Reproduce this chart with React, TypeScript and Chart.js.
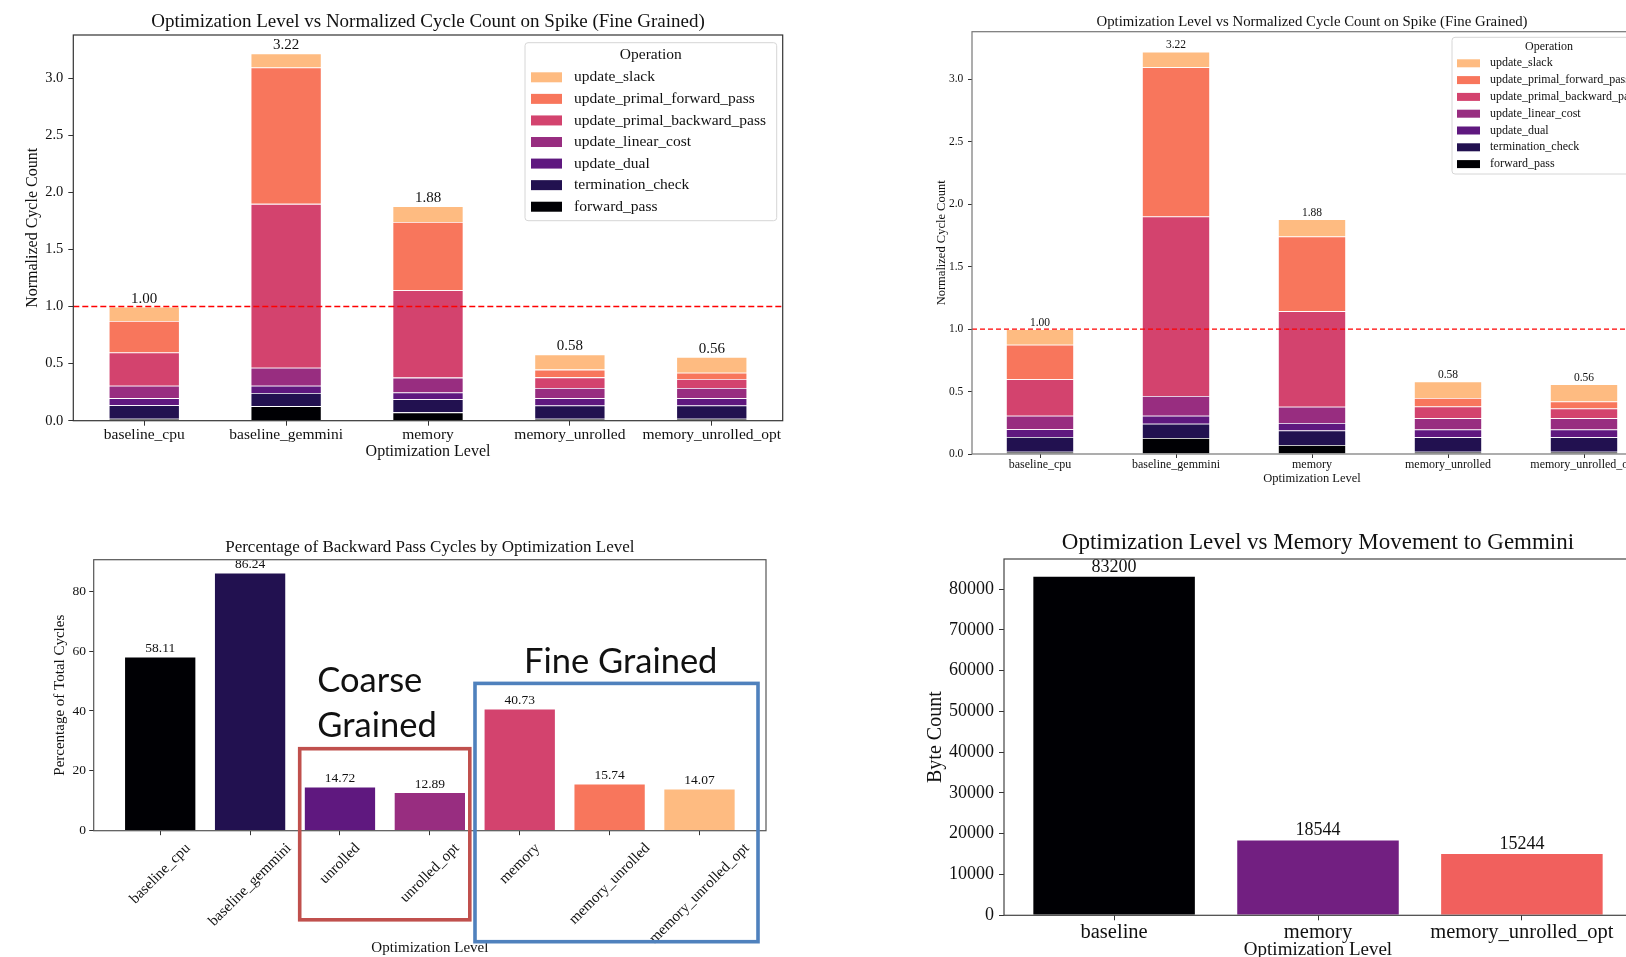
import React, { useEffect, useRef } from 'react';
import { Chart, registerables } from 'chart.js';
Chart.register(...registerables);

const FONT = "'Liberation Serif', 'DejaVu Serif', serif";
const SANS = "Lato, 'Open Sans', sans-serif";

// ---------- Chart 1 & 2 data (stacked cycle counts) ----------
const levels = ['baseline_cpu', 'baseline_gemmini', 'memory', 'memory_unrolled', 'memory_unrolled_opt'];
const operations = [
  'forward_pass',
  'termination_check',
  'update_dual',
  'update_linear_cost',
  'update_primal_backward_pass',
  'update_primal_forward_pass',
  'update_slack',
];
const forwardPass = [0.018, 0.128, 0.073, 0.018, 0.018];
const terminationCheck = [0.118, 0.115, 0.115, 0.116, 0.116];
const updateDual = [0.062, 0.063, 0.06, 0.063, 0.063];
const updateLinearCost = [0.108, 0.159, 0.13, 0.089, 0.089];
const updatePrimalBackward = [0.292, 1.436, 0.766, 0.094, 0.079];
const updatePrimalForward = [0.277, 1.195, 0.598, 0.068, 0.055];
const updateSlack = [0.125, 0.124, 0.138, 0.132, 0.138];
const opColors = ['#000004', '#221150', '#5f187f', '#982d80', '#d3436e', '#f8765c', '#febb81'];
const cycleTicks = [0, 0.5, 1, 1.5, 2, 2.5, 3];
const cycleMax = 3.381;
const baselineRef = 1.0;
const cycleTitle = 'Optimization Level vs Normalized Cycle Count on Spike (Fine Grained)';

// ---------- Chart 3 data ----------
const backwardLevels = ['baseline_cpu', 'baseline_gemmini', 'unrolled', 'unrolled_opt', 'memory', 'memory_unrolled', 'memory_unrolled_opt'];
const backwardPct = [58.11, 86.24, 14.72, 12.89, 40.73, 15.74, 14.07];
const backwardColors = ['#000004', '#221150', '#5f187f', '#982d80', '#d3436e', '#f8765c', '#febb81'];
const pctTicks = [0, 20, 40, 60, 80];
const pctMax = 90.552;

// ---------- Chart 4 data ----------
const memLevels = ['baseline', 'memory', 'memory_unrolled_opt'];
const memBytes = [83200, 18544, 15244];
const memColors = ['#000004', '#721f81', '#f1605d'];
const byteTicks = [0, 10000, 20000, 30000, 40000, 50000, 60000, 70000, 80000];
const byteMax = 87360;

const seriesList = [forwardPass, terminationCheck, updateDual, updateLinearCost, updatePrimalBackward, updatePrimalForward, updateSlack];

function font(size: number, fam = FONT) {
  return `${size}px ${fam}`;
}

function roundRect(ctx: CanvasRenderingContext2D, x: number, y: number, w: number, h: number, r: number) {
  ctx.beginPath();
  ctx.moveTo(x + r, y);
  ctx.lineTo(x + w - r, y);
  ctx.quadraticCurveTo(x + w, y, x + w, y + r);
  ctx.lineTo(x + w, y + h - r);
  ctx.quadraticCurveTo(x + w, y + h, x + w - r, y + h);
  ctx.lineTo(x + r, y + h);
  ctx.quadraticCurveTo(x, y + h, x, y + h - r);
  ctx.lineTo(x, y + r);
  ctx.quadraticCurveTo(x, y, x + r, y);
  ctx.closePath();
}

function axisCommon(L: any) {
  return {
    grid: { display: true, drawOnChartArea: false, drawTicks: true, tickLength: L.tl, tickColor: '#333', tickWidth: 1, offset: false },
    border: { display: false },
  };
}

function stackedConfig(L: any) {
  const totals = levels.map((_, i) => seriesList.reduce((s, arr) => s + arr[i], 0));
  return {
    type: 'bar',
    data: {
      labels: levels,
      datasets: seriesList.map((d, i) => ({
        label: operations[i],
        data: d,
        backgroundColor: opColors[i],
        borderColor: 'rgba(255,255,255,0.35)',
        borderWidth: 0.8,
        barPercentage: 0.5,
        categoryPercentage: 1,
        stack: 's',
      })),
    },
    options: {
      responsive: false,
      animation: false,
      devicePixelRatio: 1,
      layout: { padding: L.pad },
      plugins: { legend: { display: false }, title: { display: false }, tooltip: { enabled: false } },
      scales: {
        x: {
          stacked: true,
          offset: true,
          ...axisCommon(L),
          ticks: { font: { family: FONT, size: L.xTick }, color: '#111', padding: L.xTickPad, maxRotation: 0, minRotation: 0, autoSkip: false },
          title: { display: true, text: 'Optimization Level', font: { family: FONT, size: L.xTitle }, color: '#111', padding: { top: 0, bottom: L.xTitlePad } },
          afterFit: (s: any) => { s.height = L.xH; },
        },
        y: {
          stacked: true,
          min: 0,
          max: cycleMax,
          ...axisCommon(L),
          afterBuildTicks: (s: any) => { s.ticks = cycleTicks.map((v) => ({ value: v })); },
          ticks: { font: { family: FONT, size: L.yTick }, color: '#111', padding: L.yTickPad, callback: (v: any) => Number(v).toFixed(1) },
          title: { display: true, text: 'Normalized Cycle Count', font: { family: FONT, size: L.yTitle }, color: '#111', padding: { top: L.yTitlePad, bottom: 0 } },
          afterFit: (s: any) => { s.width = L.yW; },
        },
      },
    },
    plugins: [
      {
        id: 'decorStacked',
        afterDatasetsDraw(chart: any) {
          const ctx = chart.ctx as CanvasRenderingContext2D;
          const a = chart.chartArea;
          const y = chart.scales.y;
          ctx.save();
          ctx.strokeStyle = '#ff0000';
          ctx.lineWidth = L.refW;
          ctx.setLineDash(L.dash);
          const py = y.getPixelForValue(baselineRef);
          ctx.beginPath();
          ctx.moveTo(a.left, py);
          ctx.lineTo(a.right, py);
          ctx.stroke();
          ctx.setLineDash([]);
          const topMeta = chart.getDatasetMeta(seriesList.length - 1);
          ctx.fillStyle = '#111';
          ctx.font = font(L.valFont);
          ctx.textAlign = 'center';
          ctx.textBaseline = 'middle';
          topMeta.data.forEach((el: any, i: number) => {
            ctx.fillText(totals[i].toFixed(2), el.x, y.getPixelForValue(totals[i]) - L.valOff);
          });
          ctx.strokeStyle = L.spine;
          ctx.lineWidth = 1.2;
          ctx.strokeRect(a.left, a.top, a.right - a.left, a.bottom - a.top);
          ctx.restore();
        },
        afterDraw(chart: any) {
          const ctx = chart.ctx as CanvasRenderingContext2D;
          const a = chart.chartArea;
          ctx.save();
          ctx.fillStyle = '#111';
          ctx.font = font(L.titleFont);
          ctx.textAlign = 'center';
          ctx.textBaseline = 'middle';
          ctx.fillText(cycleTitle, (a.left + a.right) / 2, L.titleY);
          const g = L.legend;
          roundRect(ctx, g.x, g.y, g.w, g.h, 3);
          ctx.fillStyle = 'rgba(255,255,255,0.85)';
          ctx.fill();
          ctx.strokeStyle = '#d6d6d6';
          ctx.lineWidth = 1;
          ctx.stroke();
          ctx.fillStyle = '#111';
          ctx.font = font(g.font);
          ctx.fillText('Operation', g.titleX, g.titleY);
          ctx.textAlign = 'left';
          for (let i = 0; i < operations.length; i++) {
            const idx = operations.length - 1 - i;
            const cy = g.y0 + i * g.dy;
            ctx.fillStyle = opColors[idx];
            ctx.fillRect(g.swX, cy - g.swH / 2, g.swW, g.swH);
            ctx.fillStyle = '#111';
            ctx.fillText(operations[idx], g.textX, cy);
          }
          ctx.restore();
        },
      },
    ],
  };
}

function simpleBarConfig(L: any) {
  const rotated = L.rot !== 0;
  return {
    type: 'bar',
    data: {
      datasets: [
        {
          data: L.values.map((v: number, i: number) => ({ x: i, y: v })),
          backgroundColor: L.colors,
          borderColor: 'rgba(255,255,255,0.35)',
          borderWidth: 0.8,
          barPercentage: 0.8,
          categoryPercentage: 1,
        },
      ],
    },
    options: {
      responsive: false,
      animation: false,
      devicePixelRatio: 1,
      layout: { padding: L.pad },
      plugins: { legend: { display: false }, title: { display: false }, tooltip: { enabled: false } },
      scales: {
        x: {
          type: 'linear',
          offset: false,
          min: L.xMin,
          max: L.xMax,
          ...axisCommon(L),
          afterBuildTicks: (s: any) => { s.ticks = L.names.map((_: string, i: number) => ({ value: i })); },
          ticks: {
            display: !rotated,
            font: { family: FONT, size: L.xTick },
            color: '#111',
            padding: L.xTickPad,
            maxRotation: 0,
            minRotation: 0,
            autoSkip: false,
            callback: (v: any) => L.names[Math.round(Number(v))] ?? '',
          },
          title: { display: true, text: 'Optimization Level', font: { family: FONT, size: L.xTitle }, color: '#111', padding: { top: 0, bottom: L.xTitlePad } },
          afterFit: (s: any) => { s.height = L.xH; },
        },
        y: {
          min: 0,
          max: L.yMax,
          ...axisCommon(L),
          afterBuildTicks: (s: any) => { s.ticks = L.yTicks.map((v: number) => ({ value: v })); },
          ticks: { font: { family: FONT, size: L.yTick }, color: '#111', padding: L.yTickPad, callback: (v: any) => String(v) },
          title: { display: true, text: L.yLabel, font: { family: FONT, size: L.yTitle }, color: '#111', padding: { top: L.yTitlePad, bottom: 0 } },
          afterFit: (s: any) => { s.width = L.yW; },
        },
      },
    },
    plugins: [
      {
        id: 'decorSimple',
        afterDatasetsDraw(chart: any) {
          const ctx = chart.ctx as CanvasRenderingContext2D;
          const a = chart.chartArea;
          const meta = chart.getDatasetMeta(0);
          ctx.save();
          ctx.fillStyle = '#111';
          ctx.font = font(L.valFont);
          ctx.textAlign = 'center';
          ctx.textBaseline = 'middle';
          meta.data.forEach((el: any, i: number) => {
            ctx.fillText(L.fmt(L.values[i]), el.x, el.y - L.valOff);
          });
          ctx.strokeStyle = L.spine;
          ctx.lineWidth = 1.2;
          ctx.strokeRect(a.left, a.top, a.right - a.left, a.bottom - a.top);
          ctx.restore();
        },
        afterDraw(chart: any) {
          const ctx = chart.ctx as CanvasRenderingContext2D;
          const a = chart.chartArea;
          ctx.save();
          ctx.fillStyle = '#111';
          ctx.font = font(L.titleFont);
          ctx.textAlign = 'center';
          ctx.textBaseline = 'middle';
          ctx.fillText(L.title, (a.left + a.right) / 2, L.titleY);
          if (rotated) {
            // rotated tick labels, bounding box centred on the tick (matplotlib style)
            const xs = chart.scales.x;
            ctx.font = font(L.xTick);
            const ang = (L.rot * Math.PI) / 180;
            L.names.forEach((name: string, i: number) => {
              const w = ctx.measureText(name).width;
              const h = L.xTick;
              const bh = w * Math.sin(ang) + h * Math.cos(ang);
              const cx = xs.getPixelForValue(i);
              const cy = a.bottom + L.rotTop + bh / 2;
              ctx.save();
              ctx.translate(cx, cy);
              ctx.rotate(-ang);
              ctx.fillText(name, 0, 0);
              ctx.restore();
            });
          }
          if (L.annotate) L.annotate(ctx);
          ctx.restore();
        },
      },
    ],
  };
}

function annotateGroups(ctx: CanvasRenderingContext2D) {
  ctx.lineWidth = 3.6;
  ctx.strokeStyle = '#c0504d';
  ctx.strokeRect(299.7, 238.7, 170.1, 171.1);
  ctx.strokeStyle = '#4f81bd';
  ctx.strokeRect(475, 173.4, 283, 258.3);
  ctx.fillStyle = '#111';
  ctx.font = font(34.5, SANS);
  ctx.textAlign = 'left';
  ctx.textBaseline = 'middle';
  ctx.fillText('Coarse', 317.3, 171.3);
  ctx.fillText('Grained', 317.3, 216);
  ctx.fillText('Fine Grained', 524, 151.6);
}

const L1 = {
  pad: { top: 35, right: 30.3, bottom: 0, left: 0 },
  yW: 73.3, xH: 57.3, tl: 5,
  xTick: 15.5, yTick: 14.5, xTickPad: 0, yTickPad: 5,
  xTitle: 16, xTitlePad: 16.4, yTitle: 16, yTitlePad: 23.4,
  titleFont: 19, titleY: 22.5,
  valFont: 15, valOff: 8,
  refW: 1.5, dash: [6, 3], spine: '#333',
  legend: { x: 525, y: 42.7, w: 251.7, h: 178, titleX: 650.8, titleY: 55, font: 15.5, y0: 77.3, dy: 21.57, swX: 531, swW: 31, swH: 10, textX: 574 },
};

const L2 = {
  pad: { top: 31.7, right: 28, bottom: 0, left: 0 },
  yW: 72, xH: 36, tl: 4,
  xTick: 12, yTick: 11.5, xTickPad: 0, yTickPad: 4.7,
  xTitle: 12.5, xTitlePad: 3.5, yTitle: 12.5, yTitlePad: 34.5,
  titleFont: 14.8, titleY: 21.8,
  valFont: 11.5, valOff: 6.5,
  refW: 1.3, dash: [5, 3], spine: '#777',
  legend: { x: 552, y: 37.3, w: 240, h: 136.7, titleX: 649, titleY: 46.7, font: 12, y0: 63.3, dy: 16.8, swX: 557, swW: 23, swH: 8, textX: 590 },
};

const L3 = {
  pad: { top: 49.7, right: 34, bottom: 0, left: 0 },
  yW: 93.7, xH: 126.3, tl: 4.5,
  xTick: 15, yTick: 13.5, xTickPad: 2, yTickPad: 3.2,
  xTitle: 15, xTitlePad: 0, yTitle: 15, yTitlePad: 51,
  titleFont: 17, titleY: 37.5,
  valFont: 13.5, valOff: 8,
  spine: '#555',
  xMin: -0.74, xMax: 6.74, rot: 45, rotTop: 10,
  names: backwardLevels, values: backwardPct, colors: backwardColors,
  yMax: pctMax, yTicks: pctTicks, yLabel: 'Percentage of Total Cycles',
  title: 'Percentage of Backward Pass Cycles by Optimization Level',
  fmt: (v: number) => v.toFixed(2),
  annotate: annotateGroups,
};

const L4 = {
  pad: { top: 49, right: 28, bottom: 0, left: 0 },
  yW: 104, xH: 54.7, tl: 5,
  xTick: 20.5, yTick: 18, xTickPad: 0, yTickPad: 5,
  xTitle: 19, xTitlePad: 8.6, yTitle: 20, yTitlePad: 24,
  titleFont: 23, titleY: 33.4,
  valFont: 18, valOff: 9,
  spine: '#444',
  xMin: -0.54, xMax: 2.54, rot: 0, rotTop: 0,
  names: memLevels, values: memBytes, colors: memColors,
  yMax: byteMax, yTicks: byteTicks, yLabel: 'Byte Count',
  title: 'Optimization Level vs Memory Movement to Gemmini',
  fmt: (v: number) => String(v),
};

function ChartBox({ left, top, width, height, make }: { left: number; top: number; width: number; height: number; make: () => any }) {
  const ref = useRef<HTMLCanvasElement>(null);
  useEffect(() => {
    const chart = new Chart(ref.current as HTMLCanvasElement, make());
    return () => chart.destroy();
  }, []);
  return (
    <div style={{ position: 'absolute', left, top, width, height }}>
      <canvas ref={ref} width={width} height={height} style={{ display: 'block', width, height }} />
    </div>
  );
}

export default function App() {
  return (
    <div style={{ position: 'absolute', left: 0, top: 0, width: 1626, height: 957, overflow: 'hidden', background: '#fff' }}>
      <ChartBox left={0} top={0} width={813} height={478} make={() => stackedConfig(L1)} />
      <ChartBox left={900} top={0} width={780} height={490} make={() => stackedConfig(L2)} />
      <ChartBox left={0} top={510} width={800} height={447} make={() => simpleBarConfig(L3)} />
      <ChartBox left={900} top={510} width={760} height={460} make={() => simpleBarConfig(L4)} />
    </div>
  );
}
